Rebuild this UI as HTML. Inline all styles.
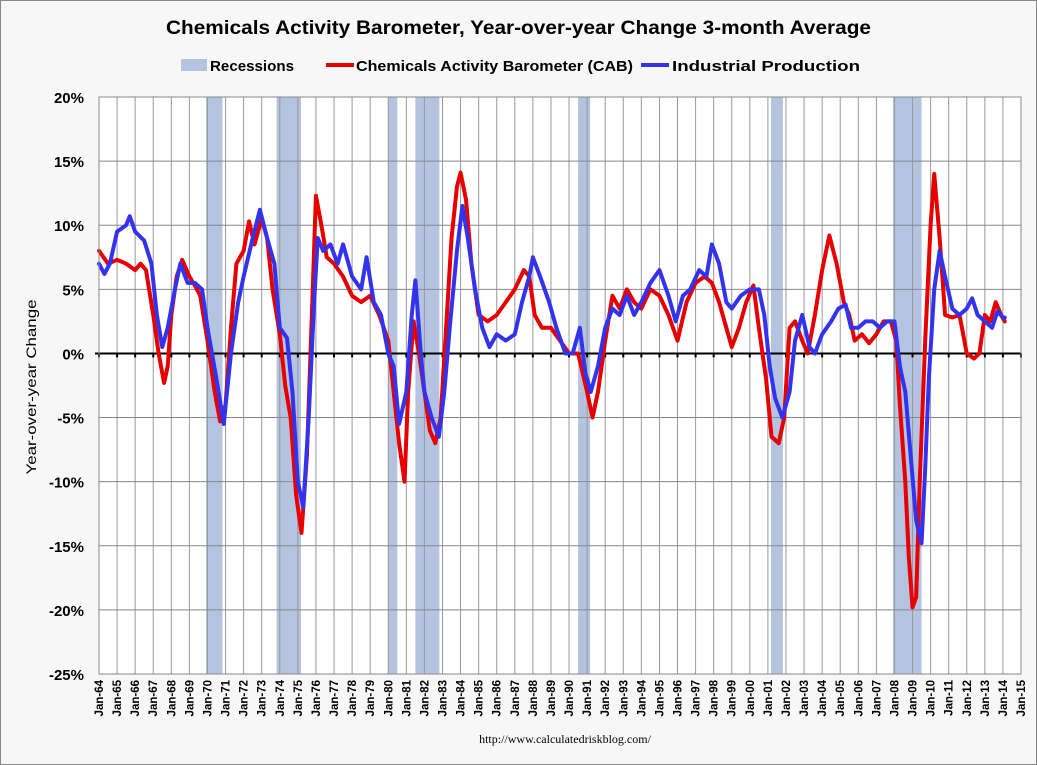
<!DOCTYPE html>
<html><head><meta charset="utf-8"><style>
body{margin:0;background:#fff}
svg{display:block;font-family:"Liberation Sans",Arial,sans-serif}
</style></head><body>
<svg id="chart" width="1037" height="765" viewBox="0 0 1037 765">
<rect x="0.5" y="0.5" width="1036" height="764" fill="#f7f7f7" stroke="#888"/>
<text x="166" y="34" textLength="705" lengthAdjust="spacingAndGlyphs" font-size="19" font-weight="bold" fill="#000">Chemicals Activity Barometer, Year-over-year Change 3-month Average</text>
<g>
<g><rect x="181" y="59" width="26" height="12" fill="#b4c3e0"/><text x="210" y="71" font-size="15" font-weight="bold" textLength="84" lengthAdjust="spacingAndGlyphs">Recessions</text></g>
<g><line x1="326" y1="65" x2="354" y2="65" stroke="#e60000" stroke-width="4"/><text x="356" y="71" font-size="15" font-weight="bold" textLength="277" lengthAdjust="spacingAndGlyphs">Chemicals Activity Barometer (CAB)</text></g>
<g><line x1="641" y1="65" x2="669" y2="65" stroke="#3333ee" stroke-width="4"/><text x="672" y="71" font-size="15" font-weight="bold" textLength="188" lengthAdjust="spacingAndGlyphs">Industrial Production</text></g>
</g>
<rect x="99" y="97" width="922" height="577" fill="#fff"/>
<g id="rec"></g><g id="grid"></g><g id="ticks"></g><g id="series"></g>
<rect x="99" y="97" width="922" height="577" fill="none" stroke="#888"/>
<text transform="translate(36,387) rotate(-90)" text-anchor="middle" font-size="14" textLength="175" lengthAdjust="spacingAndGlyphs">Year-over-year Change</text>
<text x="565" y="743" text-anchor="middle" font-size="12" font-family="Liberation Serif,serif">http://www.calculatedriskblog.com/</text>
</svg>
<script>
const recStart=[1969.92,1973.83,1980.0,1981.5,1990.5,2001.17,2007.92];
const recEnd=[1970.83,1975.17,1980.5,1982.83,1991.17,2001.83,2009.5];
const yTicks=[20,15,10,5,0,-5,-10,-15,-20,-25];
const cabX=[1964.0,1964.5,1965.0,1965.5,1966.0,1966.3,1966.6,1967.0,1967.3,1967.6,1967.8,1968.0,1968.3,1968.6,1969.0,1969.3,1969.6,1970.0,1970.4,1970.7,1971.0,1971.3,1971.6,1972.0,1972.3,1972.6,1973.0,1973.3,1973.6,1974.0,1974.3,1974.6,1974.9,1975.2,1975.5,1975.8,1976.0,1976.3,1976.6,1977.0,1977.5,1978.0,1978.5,1979.0,1979.5,1980.0,1980.3,1980.6,1980.9,1981.1,1981.4,1981.7,1982.0,1982.3,1982.6,1982.9,1983.2,1983.5,1983.8,1984.0,1984.3,1984.6,1985.0,1985.5,1986.0,1986.5,1987.0,1987.5,1987.8,1988.1,1988.5,1989.0,1989.5,1990.0,1990.5,1991.0,1991.3,1991.6,1992.0,1992.4,1992.8,1993.2,1993.6,1994.0,1994.5,1995.0,1995.5,1996.0,1996.5,1997.0,1997.5,1997.9,1998.3,1998.7,1999.0,1999.4,1999.8,2000.2,2000.5,2000.9,2001.2,2001.6,2001.9,2002.2,2002.5,2002.9,2003.2,2003.6,2004.0,2004.4,2004.8,2005.2,2005.5,2005.8,2006.2,2006.6,2007.0,2007.4,2007.8,2008.1,2008.3,2008.6,2008.8,2009.0,2009.2,2009.4,2009.7,2010.0,2010.2,2010.5,2010.8,2011.2,2011.6,2012.0,2012.4,2012.7,2013.0,2013.3,2013.6,2013.9,2014.1];
const cabY=[8,7,7.3,7,6.5,7,6.5,3,0,-2.3,-1,3,6,7.3,6,5.3,4.5,1,-3,-5.3,-4,2,7,8,10.3,8.5,10.5,9,5,1.5,-2.5,-5,-11,-14,-8,4,12.3,10,7.5,7,6,4.5,4,4.5,3,1,-3,-7,-10,-3,2.5,0,-3,-6,-7,-5,2,9,13,14.1,12,7,3,2.5,3,4,5,6.5,6,3,2,2,1,0,0,-3,-5,-3,1,4.5,3.5,5,4,3.5,5,4.5,3,1,4,5.5,6,5.5,4,2,0.5,2,4,5.3,2,-2,-6.5,-7,-5,2,2.5,1,0,3,6.5,9.2,7,4,3,1,1.5,0.8,1.5,2.5,2.5,1,-4,-10,-16,-19.8,-19,-10,1,10,14,9,3,2.8,3,0,-0.4,0,3,2.5,4,3,2.5];
const ipX=[1964.0,1964.3,1964.6,1965.0,1965.5,1965.7,1966.0,1966.5,1966.9,1967.2,1967.5,1967.8,1968.2,1968.5,1968.9,1969.3,1969.7,1970.0,1970.5,1970.9,1971.3,1971.7,1972.0,1972.5,1972.9,1973.3,1973.7,1974.0,1974.4,1974.7,1975.0,1975.3,1975.6,1975.9,1976.1,1976.4,1976.8,1977.2,1977.5,1978.0,1978.5,1978.8,1979.2,1979.6,1980.0,1980.3,1980.6,1981.0,1981.3,1981.5,1981.8,1982.0,1982.4,1982.8,1983.1,1983.4,1983.8,1984.1,1984.4,1984.8,1985.2,1985.6,1986.0,1986.5,1987.0,1987.4,1987.8,1988.0,1988.4,1988.9,1989.3,1989.8,1990.2,1990.6,1990.9,1991.2,1991.6,1992.0,1992.4,1992.8,1993.2,1993.6,1994.0,1994.5,1995.0,1995.5,1995.9,1996.3,1996.7,1997.2,1997.6,1997.9,1998.3,1998.7,1999.0,1999.5,2000.0,2000.5,2000.8,2001.1,2001.4,2001.8,2002.2,2002.5,2002.9,2003.3,2003.6,2004.0,2004.5,2004.9,2005.3,2005.6,2006.0,2006.4,2006.8,2007.2,2007.6,2008.0,2008.3,2008.6,2008.9,2009.2,2009.5,2009.7,2009.9,2010.2,2010.5,2010.8,2011.2,2011.6,2012.0,2012.3,2012.6,2013.0,2013.4,2013.7,2014.0,2014.1];
const ipY=[7,6.2,7,9.5,10,10.7,9.5,8.8,7,3,0.5,2,5,7,5.5,5.5,5,2,-2,-5.5,0,4,6,9,11.2,9,7,2,1.2,-3,-10,-12,-5,4,9,8,8.5,7,8.5,6,5,7.5,4,3,0,-1,-5.5,-3,3,5.7,0,-3,-5,-6.5,-3,2,8,11.5,9,5,2,0.5,1.5,1,1.5,4,6,7.5,6,4,2,0,0,2,-1.5,-3,-1,2,3.5,3,4.5,3,4,5.5,6.5,4.5,2.5,4.5,5,6.5,6,8.5,7,4,3.5,4.5,5,5,3,-1,-3.5,-5,-3,1,3,0.5,0,1.5,2.5,3.5,3.8,2,2,2.5,2.5,2,2.5,2.5,-1,-3,-8,-13,-14.8,-9,-2,5,8,6,3.5,3,3.5,4.3,3,2.5,2,3.3,2.8,2.8];
const X0=99,X1=1021,Y0=97,Y1=674,NS="http://www.w3.org/2000/svg";
const xs=t=>X0+(t-1964)/(2015-1964)*(X1-X0);
const ys=v=>Y0+(20-v)/45*(Y1-Y0);
function mk(tag,attrs,parent){const e=document.createElementNS(NS,tag);for(const k in attrs)e.setAttribute(k,attrs[k]);parent.appendChild(e);return e;}
const rec=document.getElementById('rec'),grid=document.getElementById('grid'),ticks=document.getElementById('ticks'),ser=document.getElementById('series');
recStart.forEach((s,i)=>{const r=mk('rect',{x:xs(s),y:Y0,width:xs(recEnd[i])-xs(s),height:Y1-Y0,fill:'#b4c3e0'},rec);

});
for(let yr=1965;yr<2015;yr++){const l=mk('line',{x1:xs(yr),x2:xs(yr),y1:Y0,y2:Y1,stroke:'#999','stroke-width':1},grid);

}
yTicks.forEach(v=>{if(v!==0&&v!==20&&v!==-25){const l=mk('line',{x1:X0,x2:X1,y1:ys(v),y2:ys(v),stroke:'#888','stroke-width':1},grid);

}
const t=mk('text',{x:84,y:ys(v)+6,'text-anchor':'end','font-size':15,'font-weight':'bold'},ticks);t.textContent=v+'%';

});
const zl=mk('line',{x1:X0-4,x2:X1,y1:ys(0),y2:ys(0),stroke:'#000','stroke-width':2},ticks);


for(let yr=1964;yr<=2015;yr++){const tk=mk('line',{x1:xs(yr),x2:xs(yr),y1:ys(0),y2:ys(0)+4,stroke:'#000','stroke-width':2},ticks);


const t=mk('text',{transform:`translate(${xs(yr)+4},${Y1+6}) rotate(-90)`,'text-anchor':'end','font-size':11.5,'font-weight':'bold'},ticks);
t.textContent='Jan-'+String(yr%100).padStart(2,'0');

}
function line(X,Y,color,name){const p=mk('polyline',{points:X.map((t,i)=>xs(t)+','+ys(Y[i])).join(' '),fill:'none',stroke:color,'stroke-width':4,'stroke-linejoin':'round','stroke-linecap':'round'},ser);

}
line(cabX,cabY,'#e60000','cab-line');
line(ipX,ipY,'#3333ee','industrial-production-line');
</script>
</body></html>
